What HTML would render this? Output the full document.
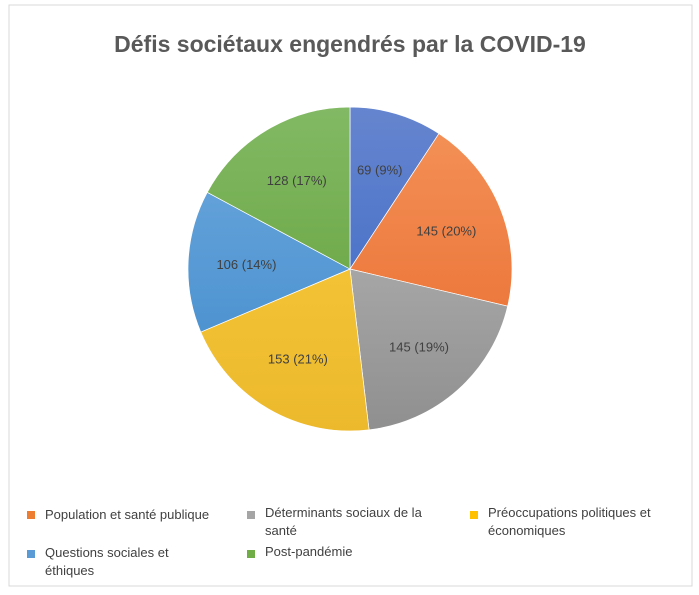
<!DOCTYPE html>
<html><head><meta charset="utf-8"><style>
body{margin:0;background:#fff;font-family:"Liberation Sans",sans-serif}
#wrap{position:relative;width:699px;height:595px;overflow:hidden}
.leg{position:absolute;font-size:13px;color:#404040;line-height:18px}
.sq{position:absolute;width:8px;height:8px}
</style></head><body>
<div id="wrap">
<svg id="pie" width="699" height="595" style="position:absolute;left:0;top:0">
<rect x="9" y="5" width="683" height="581" fill="none" stroke="#d9d9d9" stroke-width="1"/>
<text x="350" y="52" text-anchor="middle" font-size="23" font-weight="bold" fill="#595959">Défis sociétaux engendrés par la COVID-19</text>
<defs id="defs"></defs>
<g id="slices"></g><g id="labels"></g>
</svg>
<div class="sq" style="left:27px;top:511px;background:#ed7d31"></div>
<div class="leg" style="left:45px;top:506px">Population et santé publique</div>
<div class="sq" style="left:247px;top:511px;background:#a5a5a5"></div>
<div class="leg" style="left:265px;top:504px;width:180px">Déterminants sociaux de la<br>santé</div>
<div class="sq" style="left:470px;top:511px;background:#ffc000"></div>
<div class="leg" style="left:488px;top:504px;width:200px">Préoccupations politiques et<br>économiques</div>
<div class="sq" style="left:27px;top:550px;background:#5b9bd5"></div>
<div class="leg" style="left:45px;top:544px">Questions sociales et<br>éthiques</div>
<div class="sq" style="left:247px;top:550px;background:#70ad47"></div>
<div class="leg" style="left:265px;top:543px">Post-pandémie</div>
</div>
<script>
const categories=["Série 1","Population et santé publique","Déterminants sociaux de la santé","Préoccupations politiques et économiques","Questions sociales et éthiques","Post-pandémie"];
const values=[69,145,145,153,106,128];
const pctLabels=["9%","20%","19%","21%","14%","17%"];
const colorsTop=["#6685cf","#f4935a","#bdbdbd","#fbcd3f","#6fa9de","#82b964"];
const colorsBot=["#3263c3","#e8682a","#8f8f8f","#ecb92c","#3f8acb","#5e9d34"];
const cx=350,cy=269,r=162,NS="http://www.w3.org/2000/svg";
const total=values.reduce((a,b)=>a+b,0);
const defs=document.getElementById('defs'),gS=document.getElementById('slices'),gL=document.getElementById('labels');
let a0=0;
values.forEach((v,i)=>{
 const g=document.createElementNS(NS,'linearGradient');
 g.setAttribute('id','g'+i);g.setAttribute('gradientUnits','userSpaceOnUse');
 g.setAttribute('x1',0);g.setAttribute('y1',cy-r);g.setAttribute('x2',0);g.setAttribute('y2',cy+r);
 g.innerHTML='<stop offset="0" stop-color="'+colorsTop[i]+'"/><stop offset="1" stop-color="'+colorsBot[i]+'"/>';
 defs.appendChild(g);
 const a1=a0+v/total*2*Math.PI;
 const x0=cx+r*Math.sin(a0),y0=cy-r*Math.cos(a0),x1=cx+r*Math.sin(a1),y1=cy-r*Math.cos(a1);
 const p=document.createElementNS(NS,'path');
 p.setAttribute('d',`M${cx},${cy}L${x0},${y0}A${r},${r} 0 ${a1-a0>Math.PI?1:0} 1 ${x1},${y1}Z`);
 p.setAttribute('fill','url(#g'+i+')');p.setAttribute('stroke','#fff');p.setAttribute('stroke-width','0.7');
 
 
 gS.appendChild(p);
 const m=(a0+a1)/2,d=r*0.64;
 const t=document.createElementNS(NS,'text');
 t.setAttribute('x',cx+d*Math.sin(m));t.setAttribute('y',cy-d*Math.cos(m)+5);
 t.setAttribute('text-anchor','middle');t.setAttribute('font-size','13');t.setAttribute('fill','#404040');
 t.textContent=values[i]+' ('+pctLabels[i]+')';
 
 
 gL.appendChild(t);
 a0=a1;
});
</script>
</body></html>
